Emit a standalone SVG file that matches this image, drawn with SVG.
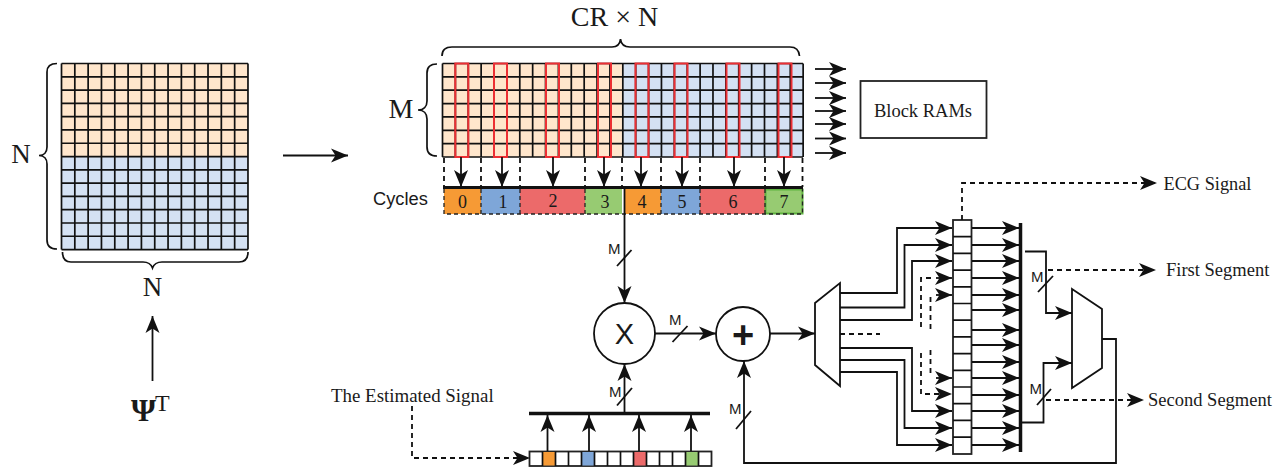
<svg xmlns="http://www.w3.org/2000/svg" width="1286" height="469" viewBox="0 0 1286 469">
<style>
text{font-family:"Liberation Serif","Times New Roman",serif;fill:#1a1a1a}
.s{font-family:"Liberation Sans",Arial,sans-serif;font-size:15px}
.g{fill:none;stroke:#111;stroke-width:1.700}
.w{fill:none;stroke:#111;stroke-width:1.800}
.d{fill:none;stroke:#111;stroke-width:1.800;stroke-dasharray:5 4}
.a{marker-end:url(#h)}
.r{fill:none;stroke:#ec2f34;stroke-width:2}
.b{fill:none;stroke:#111;stroke-width:1.700}
.c{fill:none;stroke:#222;stroke-width:1.300;stroke-dasharray:4 3}
.n{font-size:18px;text-anchor:middle}
.box{fill:#fff;stroke:#222;stroke-width:1.800}
</style>
<defs>
<marker id="h" markerUnits="userSpaceOnUse" markerWidth="20" markerHeight="16" refX="18" refY="8" orient="auto" overflow="visible"><path d="M1 1L18 8L1 15L5.500 8Z" fill="#111"/></marker>
</defs>
<rect width="1286" height="469" fill="#fff"/>

<g id="input-matrix">
<rect x="61.500" y="63.500" width="186.500" height="93" fill="#ffe6cc"/>
<rect x="61.500" y="156.500" width="186.500" height="93" fill="#d4e1f3"/>
<path class="g" d="M61.500 63.500v186m13.320-186v186m13.320-186v186m13.320-186v186m13.320-186v186m13.320-186v186m13.320-186v186m13.320-186v186m13.320-186v186m13.320-186v186m13.320-186v186m13.320-186v186m13.320-186v186m13.320-186v186m13.320-186v186"/>
<path class="g" d="M61.500 63.500h186.500m-186.500 13.290h186.500m-186.500 13.290h186.500m-186.500 13.290h186.500m-186.500 13.290h186.500m-186.500 13.290h186.500m-186.500 13.290h186.500m-186.500 13.290h186.500m-186.500 13.290h186.500m-186.500 13.290h186.500m-186.500 13.290h186.500m-186.500 13.290h186.500m-186.500 13.290h186.500m-186.500 13.290h186.500m-186.500 13.290h186.500"/>
<path class="b" d="M57 63.500C50 63.500 47 66 47 72V147C47 152 44 155.500 39 155.500C44 155.500 47 159 47 164V240C47 246 50 249 57 249"/>
<path class="b" d="M62.500 252C62.500 258 65 262 71 262H143C148 262 151 264 152.500 268C154 264 157 262 162 262H239C245 262 248 258 248 252"/>
<text x="21" y="163" text-anchor="middle" font-size="27">N</text>
<text x="152.500" y="296" text-anchor="middle" font-size="27">N</text>
<text x="131" y="421" font-size="32" font-weight="bold">Ψ</text>
<text x="155" y="411" font-size="24" text-anchor="start">T</text>
</g>

<g id="measurement-matrix">
<rect x="442.500" y="63.500" width="180" height="93.500" fill="#ffe6cc"/>
<rect x="622.500" y="63.500" width="180.500" height="93.500" fill="#d4e1f3"/>
<path class="g" d="M442.500 63.500v93.500m12.880-93.500v93.500m12.880-93.500v93.500m12.880-93.500v93.500m12.880-93.500v93.500m12.880-93.500v93.500m12.880-93.500v93.500m12.880-93.500v93.500m12.880-93.500v93.500m12.880-93.500v93.500m12.880-93.500v93.500m12.880-93.500v93.500m12.880-93.500v93.500m12.880-93.500v93.500m12.880-93.500v93.500m12.880-93.500v93.500m12.880-93.500v93.500m12.880-93.500v93.500m12.880-93.500v93.500m12.880-93.500v93.500m12.880-93.500v93.500m12.880-93.500v93.500m12.880-93.500v93.500m12.880-93.500v93.500m12.880-93.500v93.500m12.880-93.500v93.500m12.880-93.500v93.500m12.880-93.500v93.500m12.880-93.500v93.500"/>
<path class="g" d="M442.500 63.500h360.500m-360.500 13.360h360.500m-360.500 13.360h360.500m-360.500 13.360h360.500m-360.500 13.360h360.500m-360.500 13.360h360.500m-360.500 13.360h360.500m-360.500 13.360h360.500"/>
<rect class="r" x="455.300" y="63.500" width="13" height="93.500"/>
<rect class="r" x="494" y="63.500" width="13" height="93.500"/>
<rect class="r" x="546" y="63.500" width="13" height="93.500"/>
<rect class="r" x="598" y="63.500" width="13" height="93.500"/>
<rect class="r" x="635.500" y="63.500" width="13" height="93.500"/>
<rect class="r" x="674.500" y="63.500" width="13" height="93.500"/>
<rect class="r" x="726.500" y="63.500" width="13" height="93.500"/>
<rect class="r" x="778.500" y="63.500" width="13" height="93.500"/>
<path class="b" d="M442 56C442 50 445 47 452 47H612C617 47 620 44 620.500 39C621 44 624 47 630 47H790C796 47 799 50 799.500 56"/>
<path class="b" d="M437 64C430 64 427 67 427 73V101C427 106 424 110 418 110C424 110 427 114 427 119V147C427 153 430 156 437 156"/>
<text x="614.500" y="26" text-anchor="middle" font-size="28">CR × N</text>
<text x="401" y="118" text-anchor="middle" font-size="28">M</text>
</g>

<g id="block-rams">
<rect x="860.500" y="81" width="126" height="57" fill="#fff" stroke="#222" stroke-width="1.800"/>
<text x="923" y="117" text-anchor="middle" font-size="18.500">Block RAMs</text>
</g>

<g id="cycles">
<rect x="444" y="189" width="37" height="25" fill="#f69a35"/>
<rect x="481" y="189" width="39" height="25" fill="#7ea6d8"/>
<rect x="520" y="189" width="65" height="25" fill="#ec6a6a"/>
<rect x="585" y="189" width="37" height="25" fill="#97cb72"/>
<rect x="624" y="189" width="37" height="25" fill="#f69a35"/>
<rect x="661" y="189" width="39" height="25" fill="#7ea6d8"/>
<rect x="700" y="189" width="65" height="25" fill="#ec6a6a"/>
<rect x="765.500" y="189.500" width="37" height="24" fill="#97cb72" stroke="#5fb33f" stroke-width="2"/>
<path class="c" d="M444 189v25h358.500v-25M481 189v25M520 189v25M585 189v25M661 189v25M700 189v25M765 189v25"/>
<text class="n" x="462.500" y="208">0</text><text class="n" x="503" y="208">1</text><text class="n" x="553" y="207">2</text><text class="n" x="605" y="208">3</text><text class="n" x="642" y="208">4</text><text class="n" x="682" y="208">5</text><text class="n" x="733" y="208">6</text><text class="n" x="784" y="208">7</text>
<text x="373" y="205" font-size="18.300" style="font-family:'Liberation Sans',Arial,sans-serif">Cycles</text>
</g>

<g id="multiplier">
<circle cx="624.500" cy="333.500" r="30.500" fill="#fff" stroke="#111" stroke-width="1.800"/>
<text x="624.500" y="344" text-anchor="middle" font-size="29" style="font-family:'Liberation Sans',Arial,sans-serif">X</text>
</g>
<g id="adder">
<circle cx="743" cy="334" r="27" fill="#fff" stroke="#111" stroke-width="1.800"/>
<text x="743" y="348" text-anchor="middle" font-size="38" font-weight="bold" style="font-family:'Liberation Sans',Arial,sans-serif">+</text>
</g>

<g id="estimate-register">
<rect class="box" x="529.500" y="451.500" width="182" height="14.500"/>
<rect x="543" y="452" width="13" height="13.500" fill="#f69a35"/>
<rect x="582" y="452" width="13" height="13.500" fill="#7ea6d8"/>
<rect x="634" y="452" width="13" height="13.500" fill="#ec6a6a"/>
<rect x="686" y="452" width="13" height="13.500" fill="#97cb72"/>
<path class="g" d="M542.500 451.500v14.500m13-14.500v14.500m13-14.500v14.500m13-14.500v14.500m13-14.500v14.500m13-14.500v14.500m13-14.500v14.500m13-14.500v14.500m13-14.500v14.500m13-14.500v14.500m13-14.500v14.500m13-14.500v14.500m13-14.500v14.500"/>
<text x="331" y="402" font-size="18.900">The Estimated Signal</text>
</g>

<g id="mux-left"><path d="M815 303L840 283V386L815 365Z" fill="#fff" stroke="#111" stroke-width="1.800"/></g>
<g id="mux-right"><path d="M1072 289L1102 309V368L1072 388Z" fill="#fff" stroke="#111" stroke-width="1.800"/></g>

<g id="shift-register">
<rect class="box" x="953" y="220" width="18.500" height="234"/>
<path class="g" d="M953 236.700h18.500m-18.500 16.700h18.500m-18.500 16.700h18.500m-18.500 16.700h18.500m-18.500 16.700h18.500m-18.500 16.700h18.500m-18.500 16.700h18.500m-18.500 16.700h18.500m-18.500 16.700h18.500m-18.500 16.700h18.500m-18.500 16.700h18.500m-18.500 16.700h18.500m-18.500 16.700h18.500"/>
</g>

<g id="connectors">
<path class="w a" d="M283 155.500H348"/>
<path class="w a" d="M152.500 381V316"/>
<path class="w a" d="M815 69H846"/><path class="w a" d="M815 83H846"/><path class="w a" d="M815 98H846"/><path class="w a" d="M815 111H846"/><path class="w a" d="M815 124H846"/><path class="w a" d="M815 138.500H846"/><path class="w a" d="M815 153H846"/>
<path class="w a" d="M461 157V187"/><path class="w a" d="M502 157V187"/><path class="w a" d="M553 157V187"/><path class="w a" d="M604 157V187"/><path class="w a" d="M641 157V187"/><path class="w a" d="M682 157V187"/><path class="w a" d="M734 157V187"/><path class="w a" d="M784 157V187"/>
<path class="d" d="M444 158V187M481 158V187M520 158V187M585 158V187M622 158V187M661 158V187M700 158V187M765 158V187M802.500 158V187"/>
<path d="M443 187.500H803" stroke="#111" stroke-width="3" fill="none"/>
<path class="w a" d="M624.500 188V303"/>
<path class="w" d="M617 266L631.500 250"/>
<text class="s" x="608" y="254">M</text>
<path class="w a" d="M655 333.500H716"/>
<path class="w" d="M672.500 342L687.500 326"/>
<text class="s" x="669" y="325">M</text>
<path class="w a" d="M770 333.500H815"/>
<path d="M529 413.500H710" stroke="#111" stroke-width="3.500" fill="none"/>
<path class="w a" d="M624.500 413V364"/>
<path class="w" d="M617 405.500L632 388"/>
<text class="s" x="609" y="397">M</text>
<path class="w a" d="M547.500 451V415"/><path class="w a" d="M589 451V415"/><path class="w a" d="M639 451V415"/><path class="w a" d="M691 451V415"/>
<path class="d a" d="M412 406V458H530"/>
<path class="w a" d="M840 293H897V228H952"/>
<path class="w a" d="M840 307.500H904.500V245H952"/>
<path class="w a" d="M840 320H912V261H952"/>
<path class="w a" d="M840 348H912V411H952"/>
<path class="w a" d="M840 360H904.500V428H952"/>
<path class="w a" d="M840 372H897V445H952"/>
<path class="d" d="M840 334H880"/>
<path class="d" d="M931 278H921V330"/>
<path class="d a" d="M921 353V394H952"/>
<path class="w a" d="M936 278H952"/>
<path class="w a" d="M936 295H952"/>
<path class="d" d="M930.500 297V331M930.500 350V374"/>
<path class="w a" d="M936 378H952"/>
<path class="w a" d="M972 228H1019"/><path class="w a" d="M972 245H1019"/><path class="w a" d="M972 261H1019"/><path class="w a" d="M972 278H1019"/><path class="w a" d="M972 295H1019"/><path class="w a" d="M972 310H1019"/><path class="w a" d="M972 330H1019"/><path class="w a" d="M972 345H1019"/><path class="w a" d="M972 362H1019"/><path class="w a" d="M972 378H1019"/><path class="w a" d="M972 395H1019"/><path class="w a" d="M972 411H1019"/><path class="w a" d="M972 428H1019"/><path class="w a" d="M972 445H1019"/>
<path d="M1020.500 223V452" stroke="#111" stroke-width="3.500" fill="none"/>
<path class="d a" d="M962 220V183H1157"/>
<text x="1163.500" y="190" font-size="18.300">ECG Signal</text>
<path class="w a" d="M1025 251.500H1046V313H1072"/>
<path class="w a" d="M1022 422.500H1043.500V363H1072"/>
<path class="w a" d="M1102 339H1116V463H744V361"/>
<path class="d a" d="M1048 270H1156"/>
<path class="d a" d="M1046 400H1144"/>
<path class="w" d="M1038 292L1053 276"/><text class="s" x="1031" y="282">M</text>
<path class="w" d="M1037 405L1051 389"/><text class="s" x="1029.500" y="394">M</text>
<path class="w" d="M736 429L751 411"/><text class="s" x="729" y="414">M</text>
<text x="1166" y="276" font-size="18.500">First Segment</text>
<text x="1148" y="406" font-size="18.500">Second Segment</text>
</g>
</svg>
